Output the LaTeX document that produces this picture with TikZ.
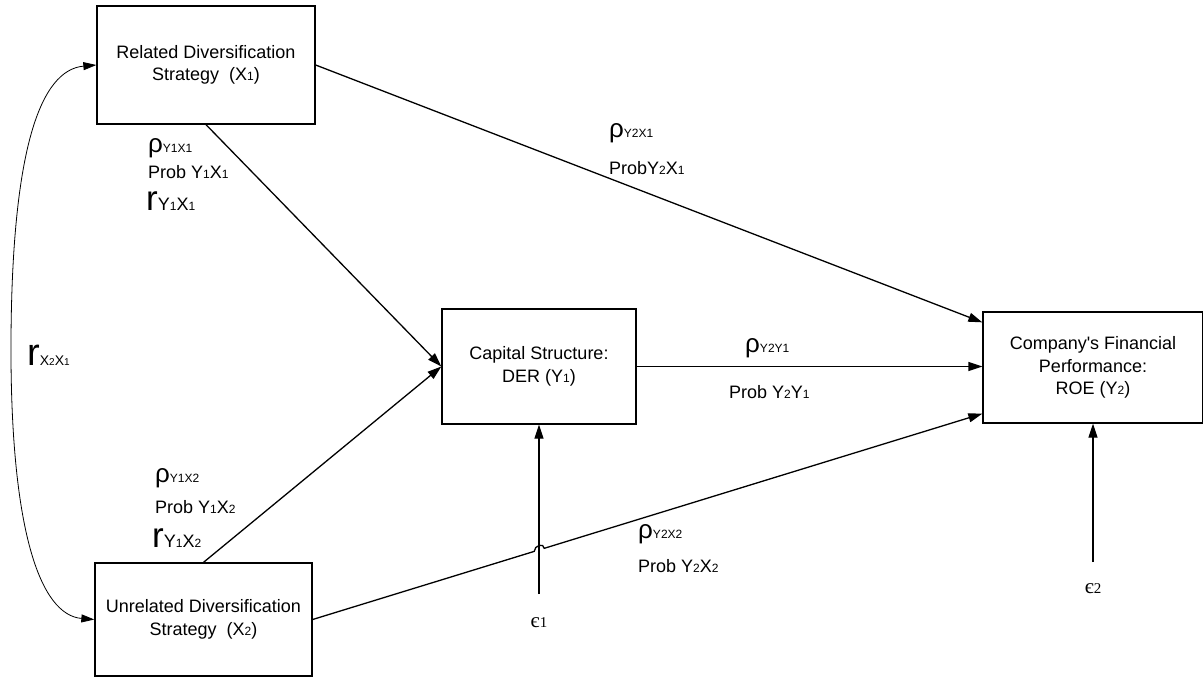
\documentclass[tikz,border=0pt]{standalone}
\usepackage{fontspec}
\setmainfont{Liberation Sans}
\newfontfamily\Sserif{Liberation Serif}
\usetikzlibrary{arrows.meta,calc}
\newcommand\Ssm[1]{{\fontsize{12}{12}\selectfont #1}}
\newcommand\Stiny[1]{{\fontsize{10}{10}\selectfont #1}}
\newcommand\Srho{{\fontsize{26}{26}\selectfont ρ}}
\newcommand\Sbigr{{\fontsize{35}{35}\selectfont r}}
\newcommand\Shuger{{\fontsize{38}{38}\selectfont r}}
\newcommand\Seps{{\fontsize{21}{21}\selectfont є}}
\begin{document}
\begin{tikzpicture}[x=1pt,y=-1pt,
  font=\fontsize{18}{22.5}\selectfont,
  box/.style={draw, line width=1.3pt, align=center, inner sep=0pt},
  conn/.style={line width=1.3pt, -{Triangle[length=14pt,width=9pt]}},
  curv/.style={line width=0.8pt, {Triangle[length=13pt,width=8pt]}-{Triangle[length=13pt,width=8pt]}},
  lab/.style={anchor=base west, inner sep=0pt},
  eps/.style={anchor=base, inner sep=0pt, font=\Sserif\fontsize{15}{15}\selectfont}]
\useasboundingbox (0,0) rectangle (1203,677);

% boxes
\node[box, minimum width=218pt, minimum height=118pt] (X1) at (206,65) {Related Diversification\\Strategy~~(X\Ssm{1})};
\node[box, minimum width=217pt, minimum height=113pt] (X2) at (203.5,619.5) {Unrelated Diversification\\Strategy~~(X\Ssm{2})};
\node[box, minimum width=194pt, minimum height=115pt] (Y1) at (539,366.5) {Capital Structure:\\DER (Y\Ssm{1})};
\node[box, minimum width=220pt, minimum height=111pt] (Y2) at (1093,367.5) {Company\textquotesingle s Financial\\Performance:\\ROE (Y\Ssm{2})};

% error terms
\node[eps] (e1) at (539,627) {\Seps1};
\node[eps] (e2) at (1093,593) {\Seps2};
\coordinate (e1b) at (539,594);
\coordinate (e2b) at (1093,562);

% connectors
\draw[conn] (X1.east) -- ([yshift=-11pt]Y2.north west);
\draw[conn] (X1.south) -- (Y1.west);
\draw[conn] (X2.north) -- (Y1.west);
\draw[conn] (Y1.east) -- (Y1.east -| Y2.west);
\coordinate (t) at ([yshift=10pt]Y2.south west);
\coordinate (ja) at ($(X2.east)!0.3308!(t)$);
\coordinate (jb) at ($(X2.east)!0.3457!(t)$);
\draw[conn] (X2.east) -- (ja) .. controls ([yshift=6pt]ja) and ([yshift=6pt]jb) .. (jb) -- (t);
\draw[conn] (e1b) -- (Y1.south);
\draw[conn] (e2b) -- (e2b |- Y2.south);
\draw[curv] (X1.west) .. controls (40,70) and (12,150) .. (11,340) .. controls (10,530) and (40,615) .. (X2.west);

% labels
\node[lab] (a1) at (148,152) {\Srho\Ssm{Y1X1}};
\node[lab] (a2) at (148,178) {Prob Y\Ssm{1}X\Ssm{1}};
\node[lab] (a3) at (146,210) {\Sbigr Y\Ssm{1}X\Ssm{1}};
\node[lab] (b1) at (609,137) {\Srho\Ssm{Y2X1}};
\node[lab] (b2) at (609,174) {ProbY\Ssm{2}X\Ssm{1}};
\node[lab] (c1) at (27,365) {\Shuger{\fontsize{14}{14}\selectfont X\Stiny{2}X\Stiny{1}}};
\node[lab] (d1) at (745,352) {\Srho\Ssm{Y2Y1}};
\node[lab] (d2) at (729,398) {Prob Y\Ssm{2}Y\Ssm{1}};
\node[lab] (f1) at (155,482) {\Srho\Ssm{Y1X2}};
\node[lab] (f2) at (155,513) {Prob Y\Ssm{1}X\Ssm{2}};
\node[lab] (f3) at (152,547) {\Sbigr Y\Ssm{1}X\Ssm{2}};
\node[lab] (g1) at (638,538) {\Srho\Ssm{Y2X2}};
\node[lab] (g2) at (638,572) {Prob Y\Ssm{2}X\Ssm{2}};
\end{tikzpicture}
\end{document}
